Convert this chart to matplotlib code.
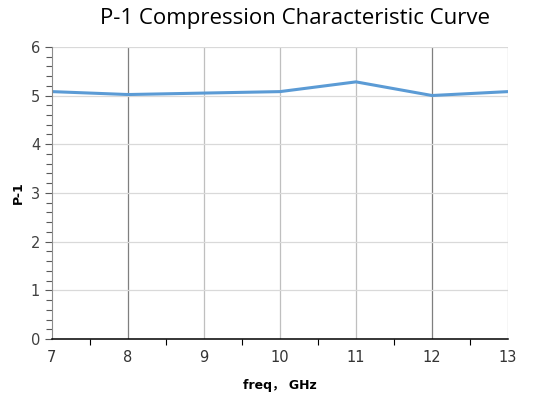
import matplotlib
matplotlib.use("Agg")
import matplotlib.pyplot as plt
import numpy as np

freq = [7, 8, 9, 10, 11, 12, 13]
p1 = [5.08, 5.02, 5.05, 5.08, 5.28, 5.00, 5.08]

fig = plt.figure(figsize=(5.41, 4.07), dpi=100)
ax = fig.add_axes([0.096, 0.167, 0.843, 0.718])

ax.plot(freq, p1, color='#5b9bd5', lw=2.2, solid_joinstyle='round')

ax.set_xlim(7, 13)
ax.set_ylim(0, 6)
ax.set_xticks(np.arange(7, 14, 1))
ax.set_xticks(np.arange(7.5, 13, 1), minor=True)
ax.set_yticks(np.arange(0, 7, 1))
ax.set_yticks(np.arange(0, 6.01, 0.2), minor=True)

for x in freq[1:]:
    c = '#7f7f7f' if x in (8, 12) else '#bfbfbf'
    ax.axvline(x, color=c, lw=0.9, zorder=0)
for y in range(1, 7):
    ax.axhline(y, color='#d9d9d9', lw=0.9, zorder=0)

for s in ['top', 'right']:
    ax.spines[s].set_visible(False)
ax.spines['left'].set_color('#8c8c8c')
ax.spines['bottom'].set_color('black')
ax.spines['bottom'].set_linewidth(1.1)

ax.tick_params(axis='y', which='both', direction='out', colors='#595959', labelsize=10.5, length=5, width=0.8)
ax.tick_params(axis='y', which='minor', length=4)
ax.tick_params(axis='x', which='both', direction='out', labelsize=10.5, length=4, width=0.8, labelcolor='#333333')
ax.tick_params(axis='x', which='major', length=0, pad=8)
for lab in ax.get_yticklabels():
    lab.set_color('#404040')

fig.suptitle('P-1 Compression Characteristic Curve', x=0.545, y=0.98, fontsize=16,
             family=['Open Sans', 'DejaVu Sans'])
ax.set_xlabel('freq， GHz', fontsize=9, fontweight='bold', labelpad=10,
              family=['DejaVu Sans', 'Noto Sans CJK SC'])
ax.set_ylabel('P-1', fontsize=9, fontweight='bold', labelpad=4)

fig.savefig('out.png', dpi=100)
